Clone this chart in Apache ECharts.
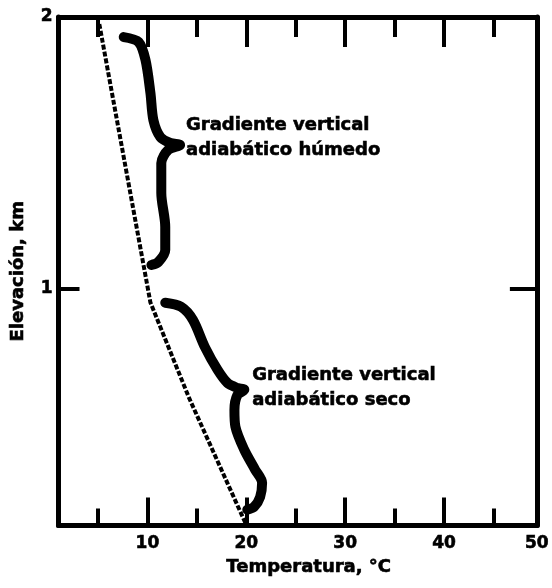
<!DOCTYPE html>
<html>
<head>
<meta charset="utf-8">
<script src="https://cdn.jsdelivr.net/npm/echarts@6/dist/echarts.min.js"></script>
<style>
html,body{margin:0;padding:0;background:#fff;}
#chart{width:552px;height:588px;}
</style>
</head>
<body>
<div id="chart"></div>
<script>
// ---- Data ----
const xMin = 1, xMax = 49.4;
const yMin = 0.13, yMax = 2;
const xLabelValues = [10, 20, 30, 40, xMax];
const xTickLabels = ['10', '20', '30', '40', '50'];
const xMajorTicks = [10, 20, 30, 40];
const xMinorTicks = [5, 15, 25, 35, 45];
const yLabelValues = [1, 2];
const yTickLabels = ['1', '2'];
const yTicks = [1];

// Temperature profile (dashed line): [temperature °C, elevation km]
const profileTemp = [19.9, 14.2, 10.3, 5.1];
const profileElev = [0.14, 0.60, 0.95, 1.98];

// Upper brace (moist adiabatic lapse rate)
const braceMoistX = [7.6, 9.1, 9.8, 10.3, 10.6, 11.3, 12.3, 13.3, 12.1, 11.4, 11.4, 11.8, 11.8, 11.1, 10.4];
const braceMoistY = [1.926, 1.908, 1.842, 1.721, 1.621, 1.559, 1.537, 1.529, 1.511, 1.463, 1.353, 1.228, 1.143, 1.099, 1.088];

// Lower brace (dry adiabatic lapse rate)
const braceDryX = [11.8, 13.4, 14.6, 15.8, 17.1, 18.1, 19.1, 19.8, 19.1, 18.8, 18.9, 19.8, 20.9, 21.6, 21.4, 20.8, 20.1];
const braceDryY = [0.949, 0.934, 0.886, 0.787, 0.702, 0.654, 0.636, 0.629, 0.610, 0.555, 0.493, 0.408, 0.335, 0.287, 0.235, 0.199, 0.188];

// Annotations
const noteTexts = ['Gradiente vertical\nadiabático húmedo', 'Gradiente vertical\nadiabático seco'];
const noteX = [13.9, 20.6];
const noteY = [1.555, 0.636];

const xTitle = 'Temperatura, °C';
const yTitle = 'Elevación, km';

// ---- Chart ----
const FONT = 'DejaVu Sans';
const HEAVY = {fontFamily: FONT, fontWeight: 'bold', color: '#000', textBorderColor: '#000', textBorderWidth: 0.6};
const zip = (a, b) => a.map((v, i) => [v, b[i]]);
const chart = echarts.init(document.getElementById('chart'), null, {renderer: 'canvas'});

const lineAxis = {show: true, lineStyle: {color: '#000', width: 5}};
function xAx(pos, ticks, len, withLine, withLabel) {
  return {
    type: 'value', position: pos, min: xMin, max: xMax,
    axisLine: withLine ? lineAxis : {show: false},
    axisTick: {show: true, inside: true, length: len, customValues: ticks, lineStyle: {color: '#000', width: 4}},
    axisLabel: withLabel ? Object.assign({
      show: true, customValues: xLabelValues, margin: 10, fontSize: 17,
      formatter: v => { const i = xLabelValues.findIndex(t => Math.abs(t - v) < 1e-6); return i >= 0 ? xTickLabels[i] : ''; }
    }, HEAVY) : {show: false},
    splitLine: {show: false}
  };
}

const xAxes = [
  Object.assign(xAx('bottom', xMajorTicks, 28, true, true), {
    name: xTitle, nameLocation: 'middle', nameGap: 33,
    nameTextStyle: Object.assign({fontSize: 18, padding: [0, 0, 0, 22]}, HEAVY)
  }),
  xAx('bottom', xMinorTicks, 17, false, false),
  xAx('top', xMajorTicks, 30, true, false),
  xAx('top', xMinorTicks, 20, false, false)
];

const yAxes = [
  {
    type: 'value', position: 'left', min: yMin, max: yMax,
    name: yTitle, nameLocation: 'middle', nameGap: 31,
    nameTextStyle: Object.assign({fontSize: 18}, HEAVY),
    axisLine: lineAxis,
    axisTick: {show: true, inside: true, length: 21, customValues: yTicks, lineStyle: {color: '#000', width: 4}},
    axisLabel: Object.assign({
      show: true, customValues: yLabelValues, margin: 6, fontSize: 17,
      formatter: v => { const i = yLabelValues.findIndex(t => Math.abs(t - v) < 1e-6); return i >= 0 ? yTickLabels[i] : ''; }
    }, HEAVY),
    splitLine: {show: false}
  },
  {
    type: 'value', position: 'right', min: yMin, max: yMax,
    axisLine: lineAxis,
    axisTick: {show: true, inside: true, length: 27, customValues: yTicks, lineStyle: {color: '#000', width: 4}},
    axisLabel: {show: false},
    splitLine: {show: false}
  }
];

const braceStyle = {color: '#000', width: 10, cap: 'round', join: 'round'};

const option = {
  animation: false,
  backgroundColor: '#fff',
  grid: {left: 58.5, right: 7.5, top: 17, bottom: 62.5, containLabel: false},
  xAxis: xAxes,
  yAxis: yAxes,
  series: [
    {
      type: 'line', data: zip(profileTemp, profileElev), showSymbol: false, symbol: 'none',
      lineStyle: {color: '#000', width: 4, type: [5, 2]}, smooth: false
    },
    {
      type: 'line', data: zip(braceMoistX, braceMoistY), showSymbol: false, symbol: 'none',
      lineStyle: braceStyle, smooth: 0.3
    },
    {
      type: 'line', data: zip(braceDryX, braceDryY), showSymbol: false, symbol: 'none',
      lineStyle: braceStyle, smooth: 0.3
    },
    {
      type: 'scatter', symbolSize: 0, itemStyle: {opacity: 1},
      data: noteTexts.map((t, i) => ({name: t, value: [noteX[i], noteY[i]]})),
      label: Object.assign({
        show: true, position: 'right', distance: 0, formatter: p => p.name,
        align: 'left', verticalAlign: 'middle', lineHeight: 25, fontSize: 18, opacity: 1
      }, HEAVY)
    }
  ]
};
chart.setOption(option);
</script>
</body>
</html>
